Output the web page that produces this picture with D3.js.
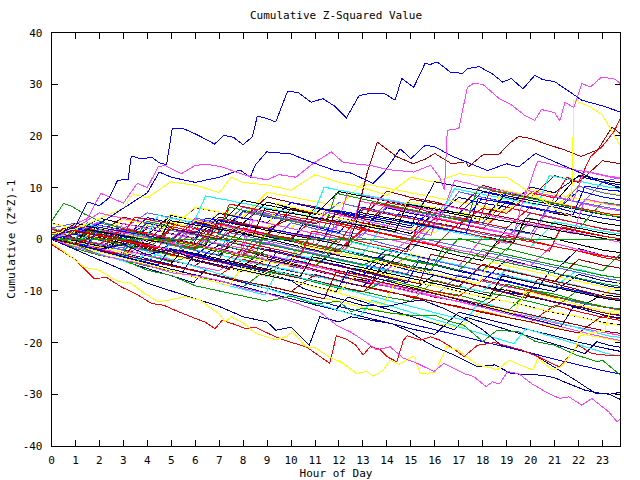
<!DOCTYPE html>
<html>
<head>
<meta charset="utf-8">
<script src="https://cdnjs.cloudflare.com/ajax/libs/d3/7.8.5/d3.min.js"></script>
<style>
  body { margin: 0; background: #fff; }
  text { font-family: "DejaVu Sans Mono", "Liberation Mono", monospace; font-size: 11px; fill: #000; }
</style>
</head>
<body>
<script>
// hourly samples for the background tangle
var hours = [0,1,2,3,4,5,6,7,8,9,10,11,12,13,14,15,16,17,18,19,20,21,22,23,23.75];
var xTicks = d3.range(0, 24);
var yTicks = [-40,-30,-20,-10,0,10,20,30,40];
var palette = ["#ff0000","#00a000","#0000ff","#ff40ff","#00ffff","#ffff00","#000000","#a00000","#0000a0","#6060ff"];

var tangle = [
  [0,-0.8,-1.7,1.2,0.4,-0.5,-1.9,2.3,1.5,0.6,-0.4,-1.6,-2.4,1.8,0.9,-0.3,-1.2,-2.5,-3.4,0.7,-0.2,-1.4,-2.3,-3.5,-4.1],
  [1,0.2,-1.3,-2.1,-3.2,-4.4,-3.1,-4.3,-5.2,-6.4,-7.1,-8.3,-9.5,-10.2,-7.8,-8.9,-10.1,-10.8,-12.1,-8.7,-9.8,-10.6,-11.9,-13.0,-13.6],
  [0.3,2.1,1.2,0.1,4.2,3.1,2.3,1.2,5.4,4.3,3.6,2.4,1.3,6.2,5.1,4.4,3.2,2.3,8.1,7.2,6.0,5.3,9.4,8.2,7.6],
  [2.1,1.2,3.4,2.3,1.1,0.2,-0.9,-2.1,-3.0,-0.6,-1.8,-2.7,-3.9,-5.1,-5.8,-2.9,-4.1,-5.2,0.4,-0.8,3.3,2.1,1.2,0.1,-0.6],
  [0,-1.1,-2.2,-3.1,-2.0,-3.2,-4.1,-5.3,-6.0,-7.2,-2.8,-3.9,-5.1,-6.2,-1.9,-3.1,-4.0,-5.2,-6.1,-7.3,-8.2,-9.4,-10.1,-11.3,-11.8],
  [1.2,3.1,2.2,1.0,0.1,3.3,2.1,5.2,4.1,3.3,2.1,6.4,5.2,4.1,3.3,2.0,1.2,5.3,4.2,8.4,7.1,6.2,10.3,9.1,8.6],
  [0,-1.2,0.3,-0.8,-2.1,-2.9,-4.2,-5.0,-6.3,-3.8,-4.9,-6.1,-7.2,-7.9,-9.1,-10.2,-6.8,-8.1,-9.2,-9.9,-11.2,-12.1,-13.3,-10.7,-11.2],
  [3.1,2.0,1.2,4.3,3.1,2.2,6.1,5.3,4.0,8.2,7.1,6.3,5.0,4.2,9.3,8.1,7.2,6.0,10.4,9.2,8.1,12.3,11.0,15.2,14.6],
  [0,-0.9,-2.1,-0.7,-1.9,-3.0,-4.2,-1.1,-2.2,-3.1,-4.3,-5.1,-1.8,-3.0,-4.1,-5.2,-6.0,-7.2,-8.1,-3.9,-5.1,-6.2,-1.8,-3.1,-3.6],
  [0.2,1.1,-0.2,-1.3,-2.2,-3.1,-0.8,-2.0,-3.2,-4.1,-5.3,-6.0,-7.2,-8.3,-9.1,-10.2,-11.0,-6.9,-8.1,-9.2,-10.0,-11.1,-12.3,-13.1,-13.7],
  [1.1,0.1,3.2,2.0,1.3,0.1,-0.8,-2.1,2.2,1.0,0.2,4.1,3.2,2.0,7.1,6.3,5.0,4.2,3.1,2.2,6.3,5.1,4.2,3.1,2.6],
  [0,-1.8,-3.1,-4.0,-5.2,-6.1,-7.3,-8.0,-9.2,-5.8,-7.0,-8.1,-9.2,-10.1,-11.2,-12.0,-7.9,-9.1,-10.2,-11.0,-12.1,-13.2,-9.8,-11.1,-11.6],
  [2.0,0.2,-1.1,-2.0,-3.2,-0.9,-2.1,-3.0,-4.2,-5.1,-6.2,-7.0,-8.2,-9.1,-4.8,-6.1,-7.0,-8.2,-9.1,-10.3,-11.0,-12.2,-13.1,-14.2,-14.7],
  [0,2.2,5.1,4.0,3.2,2.1,1.0,0.2,3.1,2.2,1.0,0.1,-1.1,-2.0,-3.2,0.2,-1.0,-2.1,-3.0,-4.2,-5.1,-0.8,-2.0,-3.1,-3.7],
  [1.0,0.1,-1.2,-2.0,0.3,-0.9,-2.1,-3.0,-4.2,-5.1,-6.0,-2.8,-4.1,-5.0,-6.2,-7.1,-8.0,-9.2,-4.9,-6.1,-7.0,-8.2,-9.1,-10.2,-10.8],
  [0,-1.1,-2.0,-3.2,-4.1,-5.0,-6.2,-7.1,-8.3,-9.0,-10.2,-11.1,-12.0,-13.2,-14.1,-15.0,-16.2,-17.1,-13.8,-15.0,-16.1,-17.0,-18.2,-19.1,-19.7],
  [0,1.2,4.1,3.0,2.2,1.1,0.2,4.3,3.1,7.2,6.0,5.2,4.1,3.0,2.2,1.1,5.2,4.0,3.2,7.3,6.1,5.0,4.2,3.1,2.6],
  [1.1,0.2,-1.0,-2.1,-3.0,-4.2,-5.1,-1.8,-3.0,-4.1,-5.2,-6.0,-7.1,-8.2,-9.0,-10.1,-11.2,-12.0,-13.1,-9.8,-11.0,-12.1,-13.0,-14.2,-14.8],
  [0,-0.8,1.1,0.2,-1.0,-2.1,-3.0,-4.2,-5.1,-6.0,-3.8,-5.0,-6.1,-7.0,-2.9,-4.1,-5.0,-6.2,-7.1,-8.0,-9.2,-10.1,-6.8,-8.0,-8.5],
  [2.2,3.1,2.0,1.2,0.1,-1.0,2.2,1.1,0.0,-1.1,3.2,2.0,1.1,0.2,-1.0,-2.1,3.0,2.1,1.0,0.2,5.1,4.2,3.0,2.1,1.6],
  [0,-1.0,-2.1,-3.2,-4.0,-5.1,-6.2,-7.0,-3.9,-5.0,-6.1,-7.2,-8.0,-9.1,-10.2,-11.0,-12.1,-13.2,-14.0,-15.1,-16.0,-12.8,-14.0,-15.1,-15.7],
  [0.1,1.2,0.0,-1.1,-2.0,2.1,1.0,0.1,-1.2,-2.0,-3.1,-4.2,0.3,-1.0,-2.2,-3.0,-4.1,-5.2,-6.0,-1.8,-3.0,-4.1,-5.0,-6.1,-2.9],
  [1.0,-0.2,-1.4,-2.6,-3.8,-4.9,-6.1,-7.2,-8.4,-9.5,-10.7,-11.8,-13.0,-14.1,-15.2,-16.4,-17.5,-18.6,-19.8,-20.9,-22.0,-23.2,-24.3,-25.4,-26.1],
  [0,-0.9,2.1,1.0,0.2,-1.1,3.1,2.0,1.2,0.1,-1.0,-2.2,-3.0,1.2,0.1,-1.0,4.2,3.1,2.0,1.1,0.0,8.2,7.1,6.0,5.5],
  [0,-1.2,-2.0,-3.1,-4.2,-0.9,-2.1,-3.0,-4.1,-5.2,-6.0,-7.1,-8.2,-4.8,-6.0,-7.1,-8.0,-9.2,-10.1,-5.8,-7.0,-8.1,-9.0,-10.2,-10.7],
  [3.0,2.1,1.0,0.2,-1.1,-2.0,1.2,0.1,-1.0,-2.2,-3.1,-4.0,-5.2,-6.1,-7.0,-2.8,-4.0,-5.1,-6.2,-7.0,-8.1,-9.2,-10.0,-11.1,-7.9],
  [0,-1.1,-2.0,0.2,-0.9,-2.1,-3.0,-4.2,-5.1,-1.9,-3.0,-4.1,-5.2,-6.0,-7.1,-8.2,-9.0,-10.1,-11.2,-12.0,-13.1,-14.2,-15.0,-16.1,-16.6],
  [1.2,2.0,1.1,0.0,-1.2,-2.0,-3.1,-4.2,-5.0,-6.1,-7.2,-8.0,-9.1,-10.2,-5.9,-7.0,-8.1,-9.2,-4.8,-6.0,-7.1,-8.2,-3.9,-5.0,-5.6],
  [0,-1.2,-2.3,-3.5,-4.6,-5.8,-6.9,-8.1,-9.2,-10.4,-11.5,-12.7,-13.8,-15.0,-16.1,-17.3,-18.4,-14.1,-15.3,-16.4,-17.6,-18.7,-19.9,-21.0,-21.7],
  [0,1.1,3.2,2.0,5.1,4.2,3.0,2.1,6.2,5.0,4.1,3.2,7.1,6.0,5.2,4.1,3.0,9.2,8.1,7.0,6.2,5.1,10.3,9.0,8.4],
  [2.0,1.1,0.2,-1.0,-2.1,-3.0,-4.1,-5.2,-1.8,-3.0,-4.1,-5.0,-6.2,-7.1,-8.0,-9.2,-10.1,-11.0,-7.8,-9.0,-10.1,-11.2,-12.0,-13.1,-13.6],
  [0,-1.0,-2.1,-3.0,1.1,0.2,-1.0,-2.1,-3.0,-4.2,-5.1,-6.0,-7.2,-8.1,-9.0,-10.2,-11.1,-12.0,-13.2,-14.1,-9.8,-11.0,-12.1,-13.0,-13.5],
  [0,2.1,1.0,0.1,-1.0,-2.2,-3.1,0.2,-1.1,-2.0,-3.2,-4.1,-5.0,-6.2,-1.9,-3.1,-4.0,-5.2,-6.1,-7.0,-8.2,-9.1,-10.0,-11.2,-11.7],
  [1.0,0.1,-1.0,-2.2,-3.1,-4.0,-5.2,-6.1,-2.8,-4.0,-5.1,-6.0,-7.2,-8.1,-9.0,-10.2,-11.1,-12.0,-13.2,-14.1,-15.0,-16.2,-17.1,-18.0,-18.6],
  [0,2.0,1.1,-0.1,3.2,2.0,1.1,-0.1,-1.0,-2.2,-3.1,1.2,0.0,-1.1,-2.0,-3.2,-4.1,-5.0,-6.2,-7.1,-8.0,-9.2,-5.8,-7.0,-7.5],
  [2.0,1.2,0.0,-1.1,-2.0,-3.2,-4.1,-5.0,-6.2,-7.1,-8.0,-9.2,-10.1,-5.8,-7.0,-8.1,-9.0,-10.2,-11.1,-12.0,-13.2,-14.1,-15.0,-16.2,-16.7],
  [0,3.1,2.0,1.2,0.1,-1.0,-2.2,-3.1,1.0,0.1,-1.0,-2.1,-3.2,-4.0,-5.1,-0.9,-2.0,-3.2,-4.1,2.0,1.2,0.1,-1.0,-2.1,-2.6],
  [0,-1.1,-2.2,-3.0,-4.1,-5.2,-6.0,-7.1,-8.2,-9.0,-10.1,-6.8,-8.0,-9.1,-10.0,-11.2,-12.1,-13.0,-14.2,-15.1,-16.0,-17.2,-18.1,-14.8,-15.4],
  [0,1.0,-0.1,-1.2,2.1,1.0,0.1,3.2,2.0,1.1,5.2,4.1,3.0,2.2,6.1,5.0,4.2,8.1,7.0,6.2,10.1,9.0,12.2,11.1,10.5],
  [1.0,0.1,-1.0,-2.1,1.2,0.0,4.1,3.2,2.0,1.1,0.0,-1.2,3.0,2.1,1.0,0.1,5.2,4.0,3.1,9.2,8.1,7.0,6.2,11.1,12.0],
  [0,-1.0,-2.1,2.0,1.1,0.0,-1.2,-2.0,-3.1,1.0,0.1,4.2,3.0,2.1,1.0,-0.1,-1.2,3.1,2.0,6.2,5.1,4.0,3.1,2.0,1.5],
  [2.0,1.1,0.0,-1.2,-2.0,-3.1,0.1,-1.0,-2.2,-3.0,-4.1,-5.2,-1.0,-2.1,-3.0,-4.2,-5.1,0.2,-1.0,-2.1,4.0,3.1,2.0,7.2,6.6],
  [0,2.1,1.0,0.2,3.1,2.0,1.2,5.0,4.1,3.2,7.1,6.0,5.2,4.0,3.1,2.2,6.1,5.0,9.2,8.1,7.0,6.2,5.0,4.1,3.6],
  [0.5,-0.6,-1.8,-2.9,-1.0,-2.1,-3.3,-4.4,-5.5,-3.0,-4.1,-5.3,-6.4,-7.6,-8.7,-9.8,-11.0,-12.1,-13.2,-14.4,-15.5,-16.6,-17.8,-18.9,-19.6],
  [0,-0.5,1.8,1.0,0.2,-0.7,-1.6,2.5,1.7,0.8,-0.1,-1.0,-1.9,-2.8,3.9,3.0,2.1,1.2,0.3,-0.6,-1.5,3.4,2.5,1.6,1.0],
  [0,1.5,0.6,3.8,2.9,2.0,6.2,5.3,4.4,9.1,8.2,7.3,6.4,10.8,9.9,9.0,8.1,7.2,6.3,5.4,9.6,8.7,7.8,6.9,6.3],
  [0.5,-0.4,2.7,1.8,0.9,4.6,3.7,2.8,7.5,6.6,5.7,4.8,9.2,8.3,7.4,6.5,5.6,4.7,3.8,8.9,8.0,7.1,12.4,11.5,10.9],
  [0,-0.9,-1.8,1.6,0.7,-0.2,3.4,2.5,1.6,0.7,5.9,5.0,4.1,3.2,2.3,7.8,6.9,6.0,5.1,4.2,3.3,2.4,1.5,0.6,0.1],
  [0,2.3,1.4,0.5,-0.4,4.1,3.2,2.3,1.4,0.5,-0.4,6.2,5.3,4.4,3.5,2.6,11.1,10.2,9.3,8.4,7.5,6.6,5.7,4.8,4.2],
  [1,0.1,-0.8,-1.7,2.6,1.7,0.8,-0.1,5.3,4.4,3.5,2.6,1.7,0.8,6.4,5.5,4.6,3.7,2.8,1.9,1.0,8.1,7.2,6.3,5.7],
  [0,-0.9,1.9,1.0,0.1,-0.8,-1.7,3.9,3.0,2.1,1.2,0.3,-0.6,5.8,4.9,4.0,3.1,2.2,1.3,0.4,-0.5,-1.4,-2.3,-3.2,-3.7]
];

// half-hourly walks, spread evenly over the day
var fine = [
  [0,-0.4,-0.9,-1.3,-1.9,-2.2,3.1,2.6,2.1,1.7,1.1,0.6,0.2,-0.3,-0.8,-1.2,-1.7,5.4,4.9,4.3,3.9,3.4,2.8,2.3,1.9,9.2,8.7,8.1,7.6,7.2,6.7,6.1,5.7,5.2,11.4,10.9,10.3,9.8,9.4,8.9,8.5,15.1,14.6,14.0,13.5,13.1,12.6,12.1,11.7],
  [1,0.6,0.1,2.8,2.3,1.9,1.4,0.9,0.5,4.6,4.1,3.7,3.2,8.4,7.9,7.5,7.0,6.6,6.1,5.7,5.2,4.8,4.3,10.1,9.6,9.2,8.7,8.3,7.8,7.4,6.9,6.5,6.0,5.6,9.8,9.3,8.9,8.4,8.0,7.5,7.1,6.6,12.3,11.9,11.4,11.0,10.5,10.1,9.8],
  [0,-0.5,-1.1,-1.6,2.2,1.7,1.1,0.6,0.1,-0.4,4.8,4.3,3.7,3.2,2.6,2.1,1.6,1.0,0.5,6.9,6.4,5.8,5.3,4.7,4.2,3.7,3.1,2.6,2.0,1.5,7.3,6.8,6.2,5.7,5.1,4.6,4.0,3.5,9.6,9.1,8.5,8.0,7.4,6.9,6.3,5.8,5.2,4.7,4.4],
  [0.5,0.1,-0.4,-0.8,-1.3,-1.7,1.9,1.5,1.0,0.6,0.1,-0.3,-0.8,-1.2,3.6,3.2,2.7,2.3,1.8,1.4,0.9,0.5,0.0,-0.4,-0.9,-1.3,5.2,4.8,4.3,3.9,3.4,3.0,2.5,2.1,1.6,1.2,0.7,0.3,-0.2,-0.6,4.1,3.7,3.2,2.8,2.3,1.9,1.4,1.0,0.7],
  [0,-0.6,-1.2,-1.8,-2.4,-3.0,-3.6,-1.0,-1.6,-2.2,-2.8,-3.4,-4.0,-4.6,-5.2,-5.8,-2.1,-2.7,-3.3,-3.9,-4.5,-5.1,-5.7,-6.3,-6.9,-7.5,-8.1,-8.7,-4.2,-4.8,-5.4,-6.0,-6.6,-7.2,-7.8,-8.4,-9.0,-9.6,-10.2,-10.8,-11.4,-7.7,-8.3,-8.9,-9.5,-10.1,-10.7,-11.3,-11.6],
  [0,-0.7,-1.4,-2.1,-2.8,-3.5,-4.2,-4.9,-5.6,-6.3,-7.0,-7.7,-8.4,-5.9,-6.6,-7.3,-8.0,-8.7,-9.4,-10.1,-10.8,-11.5,-12.2,-12.9,-13.6,-11.2,-11.9,-12.6,-13.3,-14.0,-14.7,-15.4,-16.1,-16.8,-17.5,-15.1,-15.8,-16.5,-17.2,-17.9,-18.6,-19.3,-20.0,-20.7,-21.4,-22.1,-19.8,-20.5,-20.9],
  [1,0.5,0.0,3.2,2.7,2.2,1.7,1.2,0.7,0.2,-0.3,-0.8,-1.3,-1.8,-2.3,-2.8,-3.3,-0.2,-0.7,-1.2,-1.7,-2.2,-2.7,-3.2,-3.7,-4.2,-4.7,-5.2,-5.7,-6.2,-6.7,-3.5,-4.0,-4.5,-5.0,-5.5,-6.0,-6.5,-7.0,-7.5,-8.0,-8.5,-9.0,-9.5,-10.0,-10.5,-11.0,-11.5,-11.8],
  [0,-0.4,2.5,2.1,1.6,1.2,0.7,4.3,3.9,3.4,3.0,2.5,2.1,1.6,1.2,6.8,6.4,5.9,5.5,5.0,4.6,4.1,3.7,3.2,2.8,2.3,1.9,7.1,6.7,6.2,5.8,5.3,4.9,4.4,4.0,3.5,3.1,9.4,9.0,8.5,8.1,7.6,7.2,6.7,6.3,5.8,5.4,4.9,4.7],
  [0,-0.5,-1.0,1.6,1.1,0.6,0.1,-0.4,3.5,3.0,2.5,2.0,1.5,1.0,0.5,6.2,5.7,5.2,4.7,4.2,3.7,3.2,2.7,2.2,8.9,8.4,7.9,7.4,6.9,6.4,5.9,5.4,4.9,4.4,3.9,3.4,10.1,9.6,9.1,8.6,8.1,7.6,7.1,6.6,6.1,5.6,5.1,4.6,4.3],
  [0,-0.6,-1.1,-1.7,-2.2,-2.8,-3.3,-3.9,-4.4,-5.0,-1.8,-2.3,-2.9,-3.4,-4.0,-4.5,-5.1,-5.6,-6.2,-2.3,-2.9,-3.4,-4.0,-4.5,-5.1,-5.6,-6.2,-6.7,-7.3,-7.8,-8.4,-4.1,-4.7,-5.2,-5.8,-6.3,-6.9,-7.4,-8.0,-8.5,-9.1,-9.6,-6.3,-6.9,-7.4,-8.0,-8.5,-9.1,-9.4],
  [0,-0.5,-1.0,-1.5,-2.0,1.8,1.3,0.8,0.3,-0.2,-0.7,-1.2,3.9,3.4,2.9,2.4,1.9,1.4,0.9,0.4,-0.1,-0.6,-1.1,5.3,4.8,4.3,3.8,3.3,2.8,2.3,1.8,1.3,0.8,6.6,6.1,5.6,5.1,4.6,4.1,3.6,3.1,2.6,2.1,1.6,1.1,7.8,7.3,6.8,6.5],
  [0,-0.7,-1.4,-2.1,-2.8,-3.5,-4.2,-4.9,-2.4,-3.1,-3.8,-4.5,-5.2,-5.9,-6.6,-7.3,-8.0,-8.7,-9.4,-10.1,-10.8,-11.5,-12.2,-12.9,-13.6,-14.3,-15.0,-11.8,-12.5,-13.2,-13.9,-14.6,-15.3,-16.0,-16.7,-17.4,-18.1,-18.8,-19.5,-20.2,-17.3,-18.0,-18.7,-19.4,-20.1,-20.8,-21.5,-22.2,-22.6],
  [0.5,0.0,-0.5,-1.0,-1.5,-2.0,-2.5,-3.0,0.8,0.3,-0.2,-0.7,-1.2,-1.7,-2.2,-2.7,-3.2,-3.7,-4.2,-4.7,-5.2,-1.1,-1.6,-2.1,-2.6,-3.1,-3.6,-4.1,-4.6,-5.1,-5.6,-6.1,-6.6,-7.1,-7.6,-8.1,-8.6,-4.4,-4.9,-5.4,-5.9,-6.4,-6.9,-7.4,-7.9,-8.4,-8.9,-9.4,-9.7],
  [0,-0.5,-1.0,-1.5,-2.0,-2.5,-3.0,-3.5,-4.0,-4.5,-5.0,-2.2,-2.7,-3.2,-3.7,-4.2,-4.7,-5.2,-5.7,-6.2,-6.7,-7.2,-3.4,-3.9,-4.4,-4.9,-5.4,-5.9,-6.4,-6.9,-7.4,-7.9,-8.4,-8.9,-9.4,-9.9,-10.4,-10.9,-7.1,-7.6,-8.1,-8.6,-9.1,-9.6,-10.1,-10.6,-11.1,-11.6,-11.9],
  [0,2.1,1.6,1.1,0.6,0.1,-0.4,-0.9,-1.4,-1.9,-2.4,-2.9,-3.4,-3.9,-4.4,-0.6,-1.1,-1.6,-2.1,-2.6,-3.1,-3.6,-4.1,-4.6,-5.1,-5.6,-6.1,-6.6,-7.1,-7.6,-8.1,-8.6,-2.9,-3.4,-3.9,-4.4,-4.9,-5.4,-5.9,-6.4,-6.9,-7.4,-7.9,-8.4,-8.9,-9.4,-9.9,-10.4,-10.7],
  [0,-0.6,-1.2,-1.8,-2.4,-3.0,-3.6,-4.2,-4.8,-5.4,-6.0,-6.6,-3.0,-3.6,-4.2,-4.8,-5.4,-6.0,-6.6,-7.2,-7.8,-8.4,-9.0,-9.6,-10.2,-6.1,-6.7,-7.3,-7.9,-8.5,-9.1,-9.7,-10.3,-10.9,-11.5,-12.1,-12.7,-13.3,-13.9,-14.5,-15.1,-15.7,-16.3,-16.9,-13.1,-13.7,-14.3,-14.9,-15.2],
  [0,-0.5,-1.0,-1.5,1.9,1.4,0.9,0.4,-0.1,-0.6,-1.1,-1.6,-2.1,-2.6,-3.1,1.3,0.8,0.3,-0.2,-0.7,-1.2,-1.7,-2.2,-2.7,3.8,3.3,2.8,2.3,1.8,1.3,0.8,0.3,-0.2,-0.7,-1.2,-1.7,-2.2,-2.7,-3.2,-3.7,-4.2,-4.7,-5.2,-5.7,-6.2,-6.7,-7.2,-7.7,-8.0],
  [0,-0.5,1.8,1.3,0.8,0.3,-0.2,-0.7,-1.2,-1.7,2.5,2.0,1.5,1.0,0.5,0.0,-0.5,-1.0,-1.5,-2.0,-2.5,-3.0,1.6,1.1,0.6,0.1,-0.4,-0.9,-1.4,-1.9,-2.4,3.2,2.7,2.2,1.7,1.2,0.7,0.2,-0.3,-0.8,-1.3,-1.8,-2.3,2.4,1.9,1.4,0.9,0.4,0.1],
  [0,-0.5,-1.0,-1.5,-2.0,-2.5,-3.0,1.2,0.7,0.2,-0.3,-0.8,-1.3,-1.8,-2.3,-2.8,-3.3,-3.8,0.9,0.4,-0.1,-0.6,-1.1,-1.6,-2.1,-2.6,-3.1,-3.6,-4.1,-4.6,-5.1,-5.6,-6.1,-1.8,-2.3,-2.8,-3.3,-3.8,-4.3,-4.8,-5.3,-5.8,-6.3,-6.8,-7.3,-7.8,-8.3,-8.8,-9.1],
  [0,-0.4,-0.8,-1.2,2.3,1.9,1.5,1.1,0.7,0.3,-0.1,-0.5,-0.9,4.1,3.7,3.3,2.9,2.5,2.1,1.7,1.3,0.9,0.5,0.1,5.6,5.2,4.8,4.4,4.0,3.6,3.2,2.8,2.4,2.0,1.6,1.2,7.9,7.5,7.1,6.7,6.3,5.9,5.5,5.1,4.7,10.3,9.9,9.5,9.3],
  [0,-0.5,-1.0,-1.5,-2.0,-2.5,-3.0,-3.5,1.1,0.6,0.1,-0.4,-0.9,-1.4,-1.9,-2.4,-2.9,3.7,3.2,2.7,2.2,1.7,1.2,0.7,0.2,-0.3,7.4,6.9,6.4,5.9,5.4,4.9,4.4,3.9,3.4,2.9,2.4,1.9,1.4,0.9,9.5,9.0,8.5,8.0,7.5,13.2,12.7,12.2,11.9],
  [0,-0.6,-1.2,-1.8,-2.4,-3.0,-3.6,-4.2,-4.8,-5.4,-6.0,-6.6,-7.2,-7.8,-8.4,-9.0,-9.6,-10.2,-10.8,-6.2,-6.8,-7.4,-8.0,-8.6,-9.2,-9.8,-10.4,-11.0,-11.6,-12.2,-12.8,-13.4,-14.0,-14.6,-15.2,-15.8,-12.1,-12.7,-13.3,-13.9,-14.5,-15.1,-15.7,-16.3,-16.9,-17.5,-18.1,-18.7,-19.0],
  [0,-0.6,-1.2,-1.8,-2.4,-3.0,-3.6,-4.2,-4.8,-5.4,-6.0,-6.6,-7.2,-7.8,-8.4,-9.0,-5.5,-6.1,-6.7,-7.3,-7.9,-8.5,-9.1,-9.7,-10.3,-10.9,-11.5,-12.1,-12.7,-8.3,-8.9,-9.5,-10.1,-10.7,-11.3,-11.9,-12.5,-13.1,-13.7,-14.3,-10.0,-10.6,-11.2,-11.8,-12.4,-13.0,-13.6,-14.2,-14.5],
  [0,-0.4,-0.8,1.9,1.5,1.1,0.7,0.3,-0.1,-0.5,3.6,3.2,2.8,2.4,2.0,1.6,1.2,0.8,5.9,5.5,5.1,4.7,4.3,3.9,3.5,3.1,2.7,2.3,1.9,1.5,6.8,6.4,6.0,5.6,5.2,4.8,4.4,4.0,3.6,3.2,2.8,2.4,2.0,1.6,1.2,0.8,0.4,0.0,-0.2],
  [0,-0.5,-1.0,-1.5,-2.0,-2.5,-3.0,-3.5,-4.0,-4.5,-5.0,-5.5,-6.0,-6.5,-7.0,-7.5,-8.0,-8.5,-9.0,-9.5,-10.0,-10.5,-11.0,-11.5,-6.4,-6.9,-7.4,-7.9,-8.4,-8.9,-9.4,-9.9,-10.4,-10.9,-11.4,-11.9,-12.4,-12.9,-13.4,-13.9,-14.4,-14.9,-15.4,-15.9,-16.4,-16.9,-17.4,-17.9,-18.2]
];

// series drawn in finer detail as [hour, value]
var blueTop = [[0,0],[0.5,1.5],[1,2.5],[1.5,7.2],[2,6.5],[2.4,8],[2.76,11.4],[3.2,11.6],[3.33,16.1],[3.7,15.6],[4.2,15.8],[4.5,14.8],[4.8,14.4],[5.04,21.4],[5.5,21.4],[6,20.4],[6.5,19.2],[6.8,18.4],[7.2,20.1],[7.6,19.7],[8,18.3],[8.38,19.8],[8.59,23.8],[8.9,23.5],[9.36,22.7],[9.85,28.6],[10.3,28.4],[10.84,26.5],[11.33,27.2],[11.8,25.8],[12.31,23.5],[12.84,27.8],[13.3,28.2],[13.9,28.2],[14.34,26.9],[14.62,31.1],[15.12,29.4],[15.6,34.1],[15.8,33.8],[16.1,34.3],[16.66,32.3],[17.15,32.1],[17.36,33],[17.85,33.4],[18.4,32],[18.83,30.4],[19.19,31.1],[19.68,29.1],[20.17,31.7],[20.5,30.9],[21,30.5],[21.64,28.5],[22.13,26.9],[23,25.8],[23.75,24.6]];
var magentaTop = [[0,0],[0.5,1],[1,3],[1.5,4],[2.06,8.9],[2.5,8],[3,7],[3.58,10.8],[4,10],[4.45,14],[4.73,14.3],[5.43,12.7],[6,14.3],[6.5,14.5],[7.12,14],[7.7,13],[8.38,12],[9,11.5],[9.5,12.5],[10.2,12],[10.9,14.6],[11.68,16.9],[12.17,14.9],[12.8,14.5],[13.29,14.3],[14,13.5],[15.12,13],[15.82,14.3],[16.2,12],[16.4,9.5],[16.52,21.1],[17,21.4],[17.36,29.4],[17.6,30.1],[18,30],[18.69,27.2],[19.2,26],[19.74,24],[20.17,23],[20.45,25.1],[21,24.5],[21.22,22.9],[21.43,26.5],[21.8,25.5],[22.13,30.1],[22.5,29.5],[22.97,31.4],[23.5,31],[23.75,30.1]];
var blueHigh = [[0,0],[1,1],[2,3],[3,6],[4,9],[4.5,13],[5,12],[6,11],[7,12],[7.87,13.4],[8.3,12],[8.5,14.3],[8.98,16.9],[10,16.5],[10.8,15],[11.76,13.4],[12.5,12.8],[13.43,10.8],[13.9,13],[14.55,17.5],[15,15.6],[15.6,18.2],[16,17.9],[16.66,16.2],[17.5,14.6],[18.2,13.3],[19,14.6],[19.5,14],[20.2,16.6],[21,15],[22,13],[23,11],[23.75,10]];
var yellowHigh = [[0,1],[1,2],[2,4],[3,6],[3.4,8.8],[4,8],[4.97,11.1],[6.06,10.4],[7,9],[7.5,12],[8,11],[9,10.5],[10,9.5],[11,12.5],[12,11],[13,10],[14,8.5],[15,12],[16,11],[17,12.7],[18,12],[19,12],[20,9],[21,6],[21.7,4.4],[21.8,26.9],[22.5,25.6],[23,24],[23.75,18]];
var darkRedHigh = [[0,0],[1,-1],[2,1],[3,0],[4,-1],[5,2],[6,1],[7,0],[8,3],[9,2],[10,4],[11,3],[12,5],[12.7,4],[13.2,13.3],[13.6,18.8],[14.4,16],[15.1,14.6],[15.6,15.5],[16,16.6],[16.7,14.6],[17.3,15],[17.4,14],[18,16.3],[18.7,16.5],[19.1,18.5],[19.5,19.9],[20,19.5],[20.6,18.5],[21.4,17.3],[22.1,16],[22.8,17.3],[23.4,21.7],[23.75,20.4]];
var redClimb = [[0,2],[1,0],[2,-1],[3,2],[4,1],[5,0],[6,-1],[7,3],[8,2],[9,1],[10,0],[11,-1],[12,-2],[13,2],[14,1],[15,0],[16,4],[17,3],[18,6],[19,5],[20,9],[21,8],[21.5,12],[22,11],[22.5,16],[23,18],[23.5,21],[23.75,23.5]];
var magentaLow = [[0,0],[1,-1.5],[2,-3],[3,-4],[4,-5],[5,-6.5],[6,-7],[7,-8],[8,-9.5],[9,-10.5],[10,-12],[11.19,-14],[11.89,-16.6],[12.5,-18],[13,-19.5],[13.57,-21.4],[14.13,-20.8],[14.69,-23],[15.26,-24],[15.96,-25.6],[16.38,-24],[16.8,-25],[17.22,-26],[17.6,-26.5],[18.14,-28.5],[18.4,-27.6],[18.7,-28],[19.04,-25.6],[19.5,-26],[20.03,-27.9],[20.73,-29.8],[21.22,-30.8],[21.6,-30.5],[22.13,-32.1],[22.55,-30.8],[23.26,-33.4],[23.6,-35.3],[23.75,-34.7]];
var yellowLow = [[0,-0.5],[1.36,-5.4],[2,-6],[2.77,-8.2],[3.3,-8.5],[3.89,-10.5],[4.45,-12.1],[5,-11.7],[5.57,-11.1],[6.2,-11.8],[6.98,-14.4],[7.25,-16],[7.5,-15],[8.03,-16.3],[8.52,-18.2],[9.36,-19.5],[9.8,-18.8],[10.06,-17.9],[10.62,-20.8],[11,-21],[11.47,-22.4],[12.17,-24],[12.73,-26],[13.15,-25.6],[13.45,-26.5],[13.85,-25.3],[14.13,-23.4],[14.5,-24.2],[15.12,-22.6],[15.4,-26],[16,-25.8],[16.5,-20.8],[17,-21.5],[17.3,-22.7],[17.8,-24.4],[18.3,-24.8],[18.6,-25.3],[19.1,-23.4],[19.5,-24.2],[20.1,-25.3],[20.3,-23],[20.9,-25.3],[21.3,-24.6],[21.9,-20.8],[22,-18.8],[22.5,-18.2],[23.1,-17.6],[23.3,-14],[23.75,-13.7]];
var redLow = [[0,-1],[0.5,-2.5],[1,-4],[1.78,-7.6],[2.3,-7.4],[2.9,-9.2],[3.5,-10.5],[4.17,-12.4],[4.7,-12.8],[5.29,-14],[5.99,-15.3],[6.4,-16],[6.83,-17.3],[7.12,-15.7],[7.6,-16.4],[8.1,-17.3],[8.5,-17],[9.36,-18.9],[9.9,-19.8],[10.62,-20.8],[11,-22],[11.61,-24],[11.89,-18.7],[12.3,-19.3],[12.7,-20.5],[13.01,-22.4],[13.3,-20.8],[13.7,-21.3],[14,-22.7],[14.41,-23.7],[14.69,-19.5],[14.85,-18.7],[15.4,-19.5],[15.82,-18.9],[16.2,-19.5],[16.66,-20.8],[17.22,-22.7],[17.78,-20.5],[18.5,-20],[19.6,-21.4],[20.2,-22.5],[20.87,-24],[21.2,-24.7],[21.4,-23.7],[21.99,-20.5],[22.55,-22.1],[23.1,-22.4],[23.75,-22.4]];
var navyA = [[0,0],[1,-1],[2,-2],[3,-1],[4,-3],[5,-2],[6,-4],[7,-5],[8,-6],[9,-7],[10,-8],[10.5,-9.5],[11,-10.3],[12,-11.5],[13,-12.8],[14,-13],[15,-12],[15.5,-11.8],[16.38,-13.4],[17.2,-15.3],[18,-17.5],[18.76,-20.5],[19.5,-21.3],[20.17,-22.4],[21,-24.8],[21.85,-27.2],[22.7,-29.8],[23.2,-29.8],[23.75,-31]];
var navyB = [[0,0],[1,-2],[2,-4],[3,-6],[4,-8.5],[5,-10],[6,-11.5],[7,-13],[8,-15],[9,-16],[9.36,-17.6],[10,-17],[10.76,-20.5],[11.2,-15],[12,-16],[12.5,-15],[13.5,-15.8],[14.2,-16.3],[15,-18],[15.5,-19.5],[16,-20.8],[16.8,-22.4],[17.8,-24.7],[18.5,-24.3],[19.19,-26],[20.45,-26.3],[21,-26.8],[21.4,-27.6],[22.27,-29.2],[22.9,-29.8],[23.3,-30],[23.75,-29.6]];
var greenLow = [[0,1],[1,-1],[2,-3],[3,-4],[4,-6],[5,-7],[6,-9],[7,-10],[8,-11],[9,-12],[10,-11],[11,-12.5],[12,-12],[12.5,-14],[13,-13.3],[14,-14.2],[15,-14.7],[16,-14.7],[16.7,-16],[17.2,-16.6],[18,-19.8],[18.6,-17.6],[19.5,-17.9],[20.2,-19.8],[21,-20.5],[21.9,-22.4],[22.8,-23.7],[23,-23.4],[23.75,-26.3]];
var greenEarly = [[0,3.5],[0.5,6.9],[0.8,6.5],[1.33,5],[2,3.5],[3,2],[4,0.5],[5,-1],[6,-2],[7,1],[8,0],[9,-1],[10,-2],[11,-3],[12,-4],[13,-5],[14,-3],[15,-4],[16,-5],[17,-6],[18,-2],[19,-3],[20,-4],[21,-5],[22,-6],[23,-7],[23.75,-7.5]];
var zeroLine = [[0,0],[23.75,0]];

var detail = [
  {pts: navyB, c: "#0000a0"}, {pts: navyA, c: "#0000a0"}, {pts: greenLow, c: "#00a000"},
  {pts: redLow, c: "#ff0000"}, {pts: yellowLow, c: "#ffff00"}, {pts: magentaLow, c: "#ff40ff"},
  {pts: greenEarly, c: "#00a000"}, {pts: redClimb, c: "#ff0000"}, {pts: darkRedHigh, c: "#a00000"},
  {pts: yellowHigh, c: "#ffff00"}, {pts: blueHigh, c: "#0000ff"}, {pts: magentaTop, c: "#ff40ff"},
  {pts: blueTop, c: "#0000ff"}, {pts: zeroLine, c: "#00a000"}
];

var width = 640, height = 480;
var margin = {top: 32.5, right: 19.5, bottom: 34, left: 51.5};

var x = d3.scaleLinear().domain([0, 23.75]).range([margin.left, width - margin.right]);
var y = d3.scaleLinear().domain([-40, 40]).range([height - margin.bottom, margin.top]);

var svg = d3.select("body").append("svg")
    .attr("width", width)
    .attr("height", height);

svg.append("clipPath").attr("id", "plot")
  .append("rect")
    .attr("x", x(0)).attr("y", y(40))
    .attr("width", x(23.75) - x(0)).attr("height", y(-40) - y(40));

var line = d3.line()
    .x(function(d) { return x(d[0]); })
    .y(function(d) { return y(d[1]); });

var g = svg.append("g").attr("clip-path", "url(#plot)");

function walk(pts, color) {
  g.append("path")
    .attr("d", line(pts))
    .attr("fill", "none")
    .attr("stroke", color)
    .attr("stroke-width", 1)
    .attr("shape-rendering", "crispEdges");
}

// background tangle, hourly
tangle.forEach(function(vals, i) {
  walk(vals.map(function(v, j) { return [hours[j], v]; }), palette[i % palette.length]);
});

// half-hourly walks spread evenly across the day
fine.forEach(function(vals, i) {
  var step = 23.75 / (vals.length - 1);
  walk(vals.map(function(v, j) { return [j * step, v]; }), palette[(i + 3) % palette.length]);
});

// finer series on top
detail.forEach(function(s) { walk(s.pts, s.c); });

// frame
svg.append("rect")
  .attr("x", x(0)).attr("y", y(40))
  .attr("width", x(23.75) - x(0)).attr("height", y(-40) - y(40))
  .attr("fill", "none").attr("stroke", "#000").attr("shape-rendering", "crispEdges");

// ticks pointing inwards on all four sides
var tk = 6;
var axes = svg.append("g").attr("stroke", "#000").attr("shape-rendering", "crispEdges");
xTicks.forEach(function(h) {
  axes.append("line").attr("x1", x(h)).attr("x2", x(h)).attr("y1", y(-40)).attr("y2", y(-40) - tk);
  axes.append("line").attr("x1", x(h)).attr("x2", x(h)).attr("y1", y(40)).attr("y2", y(40) + tk);
});
yTicks.forEach(function(v) {
  axes.append("line").attr("x1", x(0)).attr("x2", x(0) + tk).attr("y1", y(v)).attr("y2", y(v));
  axes.append("line").attr("x1", x(23.75)).attr("x2", x(23.75) - tk).attr("y1", y(v)).attr("y2", y(v));
});

svg.selectAll(".xl").data(xTicks).enter().append("text")
  .attr("x", function(d) { return x(d); })
  .attr("y", y(-40) + 18)
  .attr("text-anchor", "middle")
  .text(function(d) { return d; });

svg.selectAll(".yl").data(yTicks).enter().append("text")
  .attr("x", x(0) - 9)
  .attr("y", function(d) { return y(d) + 4; })
  .attr("text-anchor", "end")
  .text(function(d) { return d; });

svg.append("text")
  .attr("x", (x(0) + x(23.75)) / 2).attr("y", 19)
  .attr("text-anchor", "middle")
  .text("Cumulative Z-Squared Value");

svg.append("text")
  .attr("x", (x(0) + x(23.75)) / 2).attr("y", 477)
  .attr("text-anchor", "middle")
  .text("Hour of Day");

svg.append("text")
  .attr("transform", "translate(15," + y(0) + ") rotate(-90)")
  .attr("text-anchor", "middle")
  .text("Cumulative (Z*Z)-1");
</script>
</body>
</html>
